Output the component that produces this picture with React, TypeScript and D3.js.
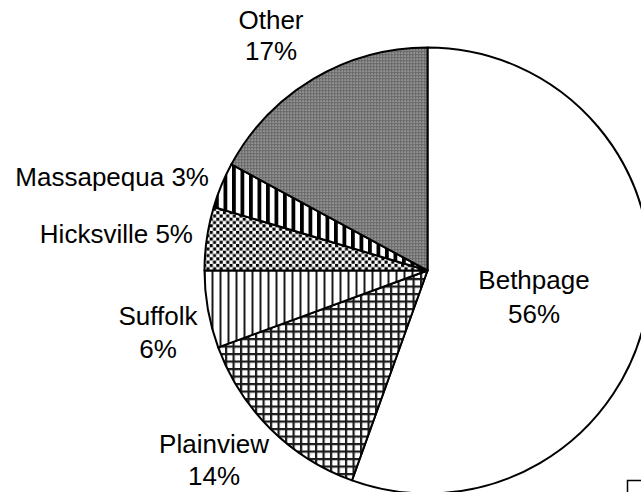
import React from "react";
import * as d3 from "d3";

const categories = ["Bethpage", "Plainview", "Suffolk", "Hicksville", "Massapequa", "Other"];
const values = [55.5, 13.9, 5.6, 4.6, 3.3, 17.1];
const percentLabels = ["56%", "14%", "6%", "5%", "3%", "17%"];
const fills = ["#ffffff", "url(#pPlain)", "url(#pSuff)", "url(#pHicks)", "url(#pMass)", "url(#pOther)"];

const W = 641;
const H = 492;
const cx = 427.5;
const cy = 270.5;
const R = 223;

export default function App() {
  const pie = d3.pie<number>().sort(null).value((d) => d).startAngle(0).endAngle(2 * Math.PI);
  const arcs = pie(values);
  const arcGen = d3.arc<d3.PieArcDatum<number>>().innerRadius(0).outerRadius(R);
  const font = { fontFamily: "'Liberation Sans', Arial, sans-serif", fontSize: 26, fill: "#000" };

  return (
    <svg width={W} height={H} style={{ position: "absolute", left: 0, top: 0 }}>
      <defs>
        <pattern id="pOther" width={3} height={3} patternUnits="userSpaceOnUse">
          <rect width={3} height={3} fill="#757575" />
          <rect x={1} y={1} width={1} height={1} fill="#d8d8d8" />
          <rect x={0} y={0} width={1} height={1} fill="#4a4a4a" />
        </pattern>
        <pattern id="pMass" width={8.5} height={8} patternUnits="userSpaceOnUse">
          <rect width={8.5} height={8} fill="#fff" />
          <rect x={0} y={0} width={3.8} height={8} fill="#000" />
        </pattern>
        <pattern id="pHicks" width={6.6} height={6.6} patternUnits="userSpaceOnUse">
          <rect width={6.6} height={6.6} fill="#fff" />
          <rect x={0} y={0} width={3.1} height={3.1} fill="#000" />
          <rect x={3.3} y={3.3} width={3.1} height={3.1} fill="#000" />
        </pattern>
        <pattern id="pSuff" width={8} height={8} patternUnits="userSpaceOnUse">
          <rect width={8} height={8} fill="#fff" />
          <rect x={0} y={0} width={2} height={8} fill="#1a1a1a" />
        </pattern>
        <pattern id="pPlain" width={7.5} height={7.5} patternUnits="userSpaceOnUse">
          <rect width={7.5} height={7.5} fill="#fff" />
          <rect x={0} y={0} width={2.2} height={7.5} fill="#1a1a1a" />
          <rect x={0} y={0} width={7.5} height={2.2} fill="#1a1a1a" />
        </pattern>
      </defs>
      <rect width={W} height={H} fill="#fff" />
      <g transform={`translate(${cx},${cy})`}>
        {arcs.map((a, i) => (
          <path key={categories[i]} d={arcGen(a) || ""} fill={fills[i]} stroke="#000" strokeWidth={2} strokeLinejoin="round" />
        ))}
      </g>
      <g style={font as any}>
        <text x={271} y={29} textAnchor="middle">{categories[5]}</text>
        <text x={271} y={60} textAnchor="middle">{percentLabels[5]}</text>
        <text x={209} y={186} textAnchor="end">{`${categories[4]} ${percentLabels[4]}`}</text>
        <text x={193} y={243} textAnchor="end">{`${categories[3]} ${percentLabels[3]}`}</text>
        <text x={158} y={325} textAnchor="middle">{categories[2]}</text>
        <text x={158} y={358} textAnchor="middle">{percentLabels[2]}</text>
        <text x={214} y={453} textAnchor="middle">{categories[1]}</text>
        <text x={214} y={485} textAnchor="middle">{percentLabels[1]}</text>
        <text x={534} y={289} textAnchor="middle">{categories[0]}</text>
        <text x={534} y={323} textAnchor="middle">{percentLabels[0]}</text>
      </g>
      <rect x={627.5} y={480.5} width={100} height={100} fill="#fff" stroke="#000" strokeWidth={1.5} />
    </svg>
  );
}
